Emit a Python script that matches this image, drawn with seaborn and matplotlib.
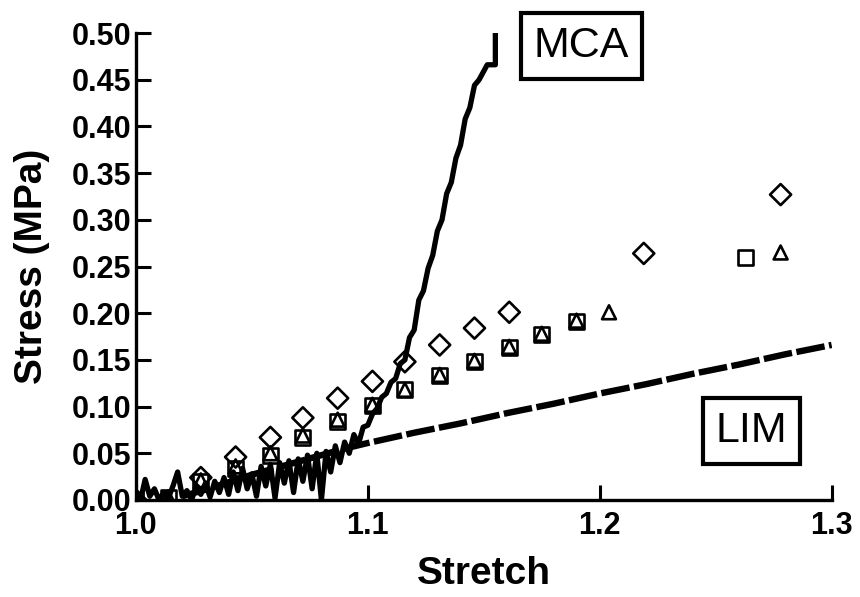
import numpy as np
import pandas as pd
import matplotlib
matplotlib.use("Agg")
import matplotlib.pyplot as plt
import seaborn as sns

# Measured stress-stretch points for three specimens
stretch_diamond = [1.000, 1.028, 1.043, 1.058, 1.072, 1.087, 1.102, 1.116, 1.131,
                   1.146, 1.161, 1.219, 1.278]
stress_diamond = [0.000, 0.024, 0.046, 0.067, 0.088, 0.109, 0.127, 0.148, 0.166,
                  0.184, 0.201, 0.264, 0.327]

stretch_square = [1.000, 1.014, 1.028, 1.043, 1.058, 1.072, 1.087, 1.102, 1.116,
                  1.131, 1.146, 1.161, 1.175, 1.190, 1.263]
stress_square = [0.000, 0.003, 0.020, 0.034, 0.048, 0.067, 0.084, 0.101, 0.118,
                 0.133, 0.148, 0.163, 0.177, 0.191, 0.260]

stretch_triangle = [1.000, 1.014, 1.028, 1.043, 1.058, 1.072, 1.087, 1.102, 1.116,
                    1.131, 1.146, 1.161, 1.175, 1.190, 1.204, 1.278]
stress_triangle = [0.000, 0.003, 0.021, 0.036, 0.050, 0.069, 0.086, 0.102, 0.118,
                   0.134, 0.149, 0.164, 0.178, 0.192, 0.201, 0.265]

# MCA model trace (noisy solution)
stretch_mca = [1.000, 1.002, 1.004, 1.006, 1.008, 1.010, 1.012, 1.014, 1.016, 1.018,
               1.020, 1.022, 1.024, 1.026, 1.028, 1.030, 1.032, 1.034, 1.036, 1.038,
               1.040, 1.042, 1.044, 1.046, 1.048, 1.050, 1.052, 1.054, 1.056, 1.058,
               1.060, 1.062, 1.064, 1.066, 1.068, 1.070, 1.072, 1.074, 1.076, 1.078,
               1.080, 1.082, 1.084, 1.086, 1.088, 1.090, 1.092, 1.094, 1.096, 1.098,
               1.100, 1.102, 1.104, 1.106, 1.108, 1.110, 1.112, 1.114, 1.116, 1.118,
               1.120, 1.122, 1.124, 1.126, 1.128, 1.130, 1.132, 1.134, 1.136, 1.138,
               1.140, 1.142, 1.144, 1.146, 1.148, 1.1515, 1.155, 1.155]
stress_mca = [0.005, 0.000, 0.022, 0.004, 0.012, 0.000, 0.008, 0.002, 0.015, 0.030,
              0.004, 0.010, 0.000, 0.014, 0.006, 0.018, 0.003, 0.020, 0.008, 0.024,
              0.006, 0.030, 0.010, 0.034, 0.012, 0.028, 0.004, 0.036, 0.015, 0.038,
              0.002, 0.040, 0.018, 0.042, 0.008, 0.044, 0.020, 0.048, 0.012, 0.050,
              0.000, 0.052, 0.030, 0.058, 0.040, 0.062, 0.050, 0.070, 0.060, 0.078,
              0.080, 0.092, 0.098, 0.110, 0.114, 0.126, 0.130, 0.146, 0.150, 0.174,
              0.182, 0.214, 0.224, 0.248, 0.262, 0.288, 0.300, 0.328, 0.340, 0.366,
              0.380, 0.408, 0.420, 0.444, 0.450, 0.466, 0.466, 0.500]

# LIM model curve
stretch_lim = [1.020, 1.030, 1.040, 1.050, 1.060, 1.070, 1.080, 1.090, 1.100, 1.120,
               1.140, 1.160, 1.180, 1.200, 1.220, 1.240, 1.260, 1.280, 1.300]
stress_lim = [0.004, 0.011, 0.019, 0.027, 0.034, 0.041, 0.048, 0.055, 0.061, 0.072,
              0.082, 0.093, 0.103, 0.114, 0.124, 0.135, 0.145, 0.156, 0.166]

x_ticks = [1.0, 1.1, 1.2, 1.3]
y_ticks = [0.00, 0.05, 0.10, 0.15, 0.20, 0.25, 0.30, 0.35, 0.40, 0.45, 0.50]

sns.set_theme(style="ticks")
plt.rcParams["font.family"] = ["Liberation Sans", "DejaVu Sans"]

fig = plt.figure(figsize=(8.6, 5.97), dpi=100)
ax = fig.add_axes([0.158, 0.1625, 0.809, 0.7822])

df_mca = pd.DataFrame({"x": stretch_mca, "y": stress_mca})
df_lim = pd.DataFrame({"x": stretch_lim, "y": stress_lim})

sns.lineplot(data=df_lim, x="x", y="y", ax=ax, color="black", lw=4.6,
             sort=False, estimator=None, zorder=3)
ax.lines[-1].set_dashes((4.5, 0.7))
sns.lineplot(data=df_mca, x="x", y="y", ax=ax, color="black", lw=3.8,
             sort=False, estimator=None, zorder=4)

mk = dict(facecolor="none", edgecolor="black", linewidth=1.9, zorder=5, ax=ax)
sns.scatterplot(x=stretch_diamond, y=stress_diamond, marker="D", s=115, **mk)
sns.scatterplot(x=stretch_square, y=stress_square, marker="s", s=115, **mk)
sns.scatterplot(x=stretch_triangle, y=stress_triangle, marker="^", s=100, **mk)

ax.set_xlim(1.0, 1.3)
ax.set_ylim(0.0, 0.5)
ax.set_xticks(x_ticks)
ax.set_xticklabels([f"{t:.1f}" for t in x_ticks])
ax.set_yticks(y_ticks)
ax.set_yticklabels([f"{t:.2f}" for t in y_ticks])
ax.tick_params(axis="both", direction="in", length=11, width=2.2,
               labelsize=22, colors="black")
ax.tick_params(axis="y", pad=3)
ax.tick_params(axis="x", pad=8)
for lab in ax.get_xticklabels() + ax.get_yticklabels():
    lab.set_fontweight("bold")
ax.set_xlabel("Stretch", fontsize=28, fontweight="bold", color="black", labelpad=11)
ax.set_ylabel("Stress (MPa)", fontsize=28, fontweight="bold", color="black", labelpad=16)

sns.despine(ax=ax)
for side in ("left", "bottom"):
    ax.spines[side].set_linewidth(2.4)
    ax.spines[side].set_color("black")

box = dict(boxstyle="square,pad=0.3", facecolor="white", edgecolor="black", linewidth=3)
ax.text(1.1922, 0.486, "MCA", fontsize=31, color="black", ha="center", va="center",
        bbox=box, zorder=6, clip_on=False)
ax.text(1.2655, 0.074, "LIM", fontsize=31, color="black", ha="center", va="center",
        bbox=box, zorder=6)

fig.savefig("out.png", dpi=100)
